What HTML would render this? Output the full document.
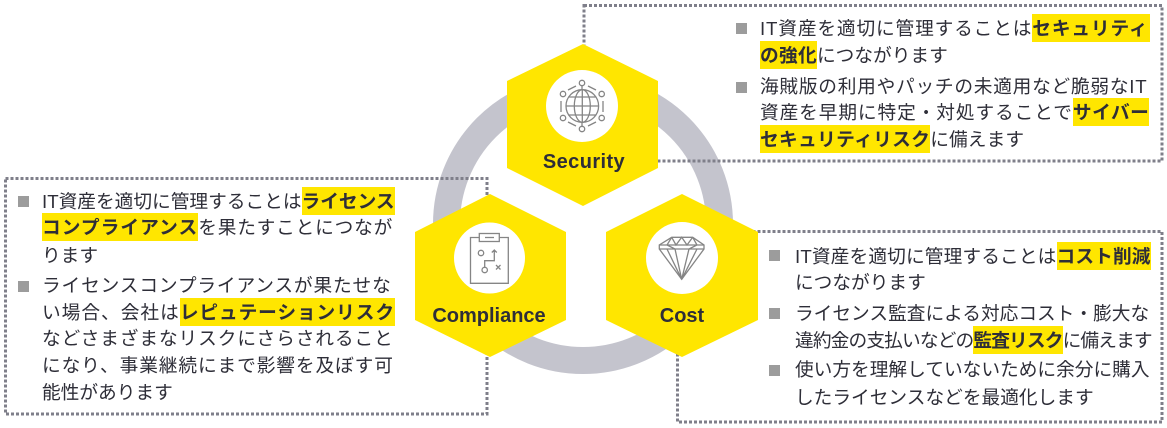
<!DOCTYPE html>
<html lang="ja"><head><meta charset="utf-8">
<style>
html,body{margin:0;padding:0;background:#fff}
#p{position:relative;width:1167px;height:428px;overflow:hidden;background:#fff}
svg{position:absolute;left:0;top:0}
.l{position:absolute;height:28px;line-height:30px;font-size:18.7px;white-space:nowrap;color:#2e2e38;font-family:"Liberation Sans","Noto Sans CJK JP",sans-serif}
.l b{display:inline-block;height:28px;background:#ffe600;font-weight:700}
.b{position:absolute;width:11px;height:11px;background:#9c9c9c}
</style></head><body><div id="p">
<svg width="1167" height="428" viewBox="0 0 1167 428">
<circle cx="583" cy="224" r="136.5" fill="none" stroke="#c4c4cd" stroke-width="27"/>
<g fill="none" stroke="#7f7f8a" stroke-width="3" stroke-dasharray="3 2">
<rect x="584" y="5.5" width="578" height="155.5"/>
<rect x="5.5" y="178.5" width="481.5" height="235.5"/>
<rect x="677.5" y="231.5" width="484.5" height="190.5"/>
</g>
<g fill="#ffe600">
<polygon points="583,44 658,81 658,168 583,206 507,168 507,81"/>
<polygon points="490,194 566,232 566,320 490,357 415,320 415,232"/>
<polygon points="682,194 758,232 758,320 682,357 606,320 606,232"/>
</g>
<g fill="#fff">
<circle cx="582" cy="106" r="36"/>
<circle cx="489.5" cy="258" r="35.5"/>
<circle cx="682" cy="258" r="36"/>
</g>
<g fill="none" stroke="#858585" stroke-width="1.3">
<circle cx="582.3" cy="106" r="16.3"/>
<ellipse cx="582.3" cy="106" rx="8" ry="16.3"/>
<path d="M582.3 89.7V122.3M566 106H598.6M568.5 97H596M568.5 115H596"/>
<circle cx="582" cy="83" r="2.7"/><circle cx="601.7" cy="94" r="2.7"/><circle cx="601.7" cy="118" r="2.7"/>
<circle cx="582" cy="129" r="2.7"/><circle cx="563" cy="118" r="2.7"/><circle cx="563" cy="94" r="2.7"/>
<path d="M582 86V90M561 101V112M603 101V112M568 90L576 86M588 86L596 90M568 122L576 126M588 126L596 122M582 122V126"/>
<path d="M479.3 237.5H470.5V283.3H508.3V237.5H499.3"/>
<rect x="479.3" y="233.5" width="20" height="8"/>
<path d="M485 237.5H494"/>
<circle cx="481" cy="253" r="2.7"/><circle cx="484.7" cy="270" r="2.7"/>
<path d="M484.7 267.3V260.7H494.3V250M491.8 252.5L494.3 250L496.8 252.5M496 265L500.5 269.5M500.5 265L496 269.5"/>
<path d="M671.7 237.3H692.7L704 245V249L681.7 279.3L659.3 249V245Z"/>
<path d="M659.3 245H704M659.3 249H704M671.7 237.3L667 245L675 249L681.7 279.3M692.7 237.3L697 245L689 249L681.7 279.3M671.7 237.3L676 245L681.7 237.3L687 245L692.7 237.3M667 249L681.7 279.3M697 249L681.7 279.3"/>
</g>
<g font-family="'Liberation Sans',sans-serif" font-weight="700" font-size="20" fill="#2e2e38" text-anchor="middle">
<text x="584" y="168" letter-spacing=".4">Security</text>
<text x="489" y="322" letter-spacing="0">Compliance</text>
<text x="682" y="322" letter-spacing="0">Cost</text>
</g>
</svg>

<div class="b" style="left:736px;top:23px"></div>
<div class="b" style="left:736px;top:82px"></div>
<div class="l" style="left:760px;top:14px;letter-spacing:.85px">IT資産を適切に管理することは<b style="letter-spacing:.85px;padding-right:2px">セキュリティ</b></div>
<div class="l" style="left:760px;top:41px"><b style="letter-spacing:.3px">の強化</b>につながります</div>
<div class="l" style="left:760px;top:72px;letter-spacing:.75px">海賊版の利用やパッチの未適用など脆弱なIT</div>
<div class="l" style="left:760px;top:98px;letter-spacing:.9px">資産を早期に特定・対処することで<b style="letter-spacing:.55px">サイバー</b></div>
<div class="l" style="left:760px;top:125px;letter-spacing:.1px"><b style="letter-spacing:.35px">セキュリティリスク</b>に備えます</div>

<div class="b" style="left:18px;top:196px"></div>
<div class="b" style="left:18px;top:281px"></div>
<div class="l" style="left:42px;top:187px">IT資産を適切に管理することは<b style="padding-right:.5px">ライセンス</b></div>
<div class="l" style="left:42px;top:213px;letter-spacing:.8px"><b style="letter-spacing:1.05px">コンプライアンス</b>を果たすことにつなが</div>
<div class="l" style="left:42px;top:241px">ります</div>
<div class="l" style="left:42px;top:271px;letter-spacing:.85px">ライセンスコンプライアンスが果たせな</div>
<div class="l" style="left:42px;top:298px;letter-spacing:1px">い場合、会社は<b style="letter-spacing:.9px">レピュテーションリスク</b></div>
<div class="l" style="left:42px;top:324px;letter-spacing:.9px">などさまざまなリスクにさらされること</div>
<div class="l" style="left:42px;top:351px;letter-spacing:.9px">になり、事業継続にまで影響を及ぼす可</div>
<div class="l" style="left:42px;top:378px">能性があります</div>

<div class="b" style="left:769px;top:250px"></div>
<div class="b" style="left:769px;top:308px"></div>
<div class="b" style="left:769px;top:365px"></div>
<div class="l" style="left:795px;top:242px;letter-spacing:.13px">IT資産を適切に管理することは<b>コスト削減</b></div>
<div class="l" style="left:795px;top:268px">につながります</div>
<div class="l" style="left:795px;top:299px">ライセンス監査による対応コスト・膨大な</div>
<div class="l" style="left:795px;top:326px;letter-spacing:-.85px">違約金の支払いなどの<b>監査リスク</b>に備えます</div>
<div class="l" style="left:795px;top:355px">使い方を理解していないために余分に購入</div>
<div class="l" style="left:795px;top:383px">したライセンスなどを最適化します</div>
</div></body></html>
